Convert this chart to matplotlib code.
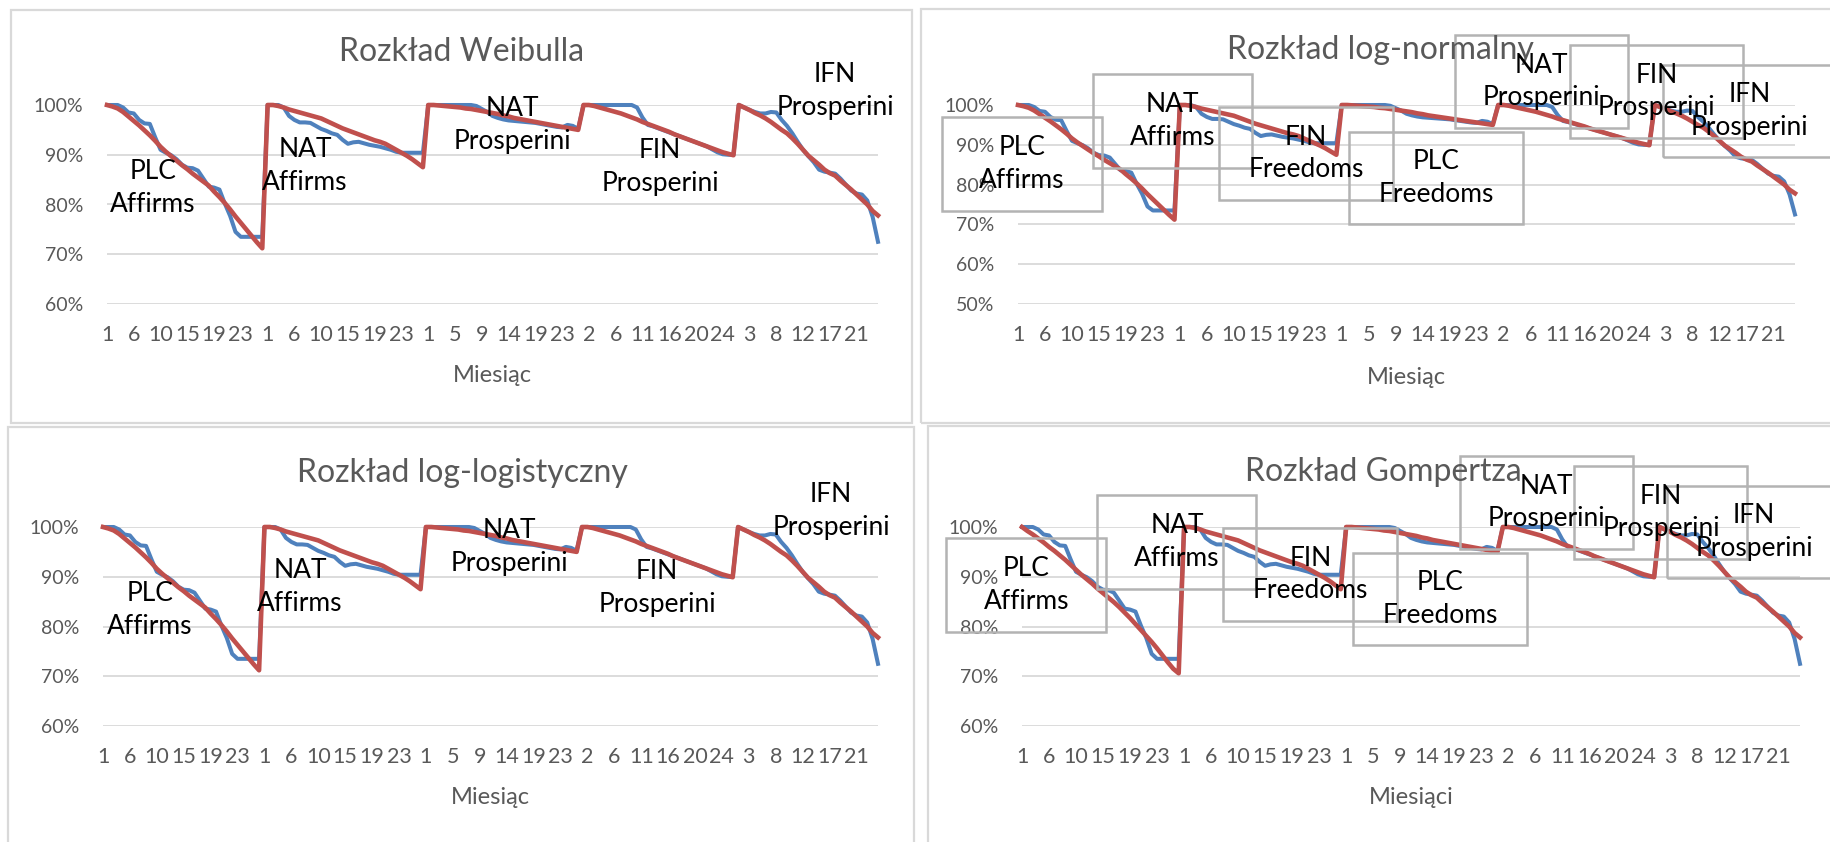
""" Survival curves: observed vs fitted, four distributions """

import matplotlib.pyplot as plt
from matplotlib.patches import Rectangle

W, H = 1831, 842

# Visible category labels (every 5th month on the category axis)
tick_labels = [
    "1", "6", "10", "15", "19", "23",
    "1", "6", "10", "15", "19", "23",
    "1", "5", "9", "14", "19", "23",
    "2", "6", "11", "16", "20", "24",
    "3", "8", "12", "17", "21",
]

# Observed survival (%) per programme
obs_plc_affirms = [100, 100, 100, 99.5, 98.5, 98.3, 97, 96.3, 96.2, 93.5, 91, 90.4, 89.9, 89.1, 88,
                   87.4, 87.3, 86.8, 85.2, 83.6, 83.4, 83, 80.2, 77.7, 74.5, 73.5, 73.5, 73.5, 73.5, 73.5]
obs_nat_affirms = [100, 100, 100, 99.5, 97.8, 97, 96.5, 96.5, 96.4, 95.8, 95.2, 94.8, 94.3, 94, 93,
                   92.2, 92.5, 92.6, 92.3, 92, 91.8, 91.6, 91.3, 91, 90.6, 90.4, 90.4, 90.4, 90.4, 90.4]
obs_nat_prosperini = [100, 100, 100, 100, 100, 100, 100, 100, 100, 99.8, 99.2, 98.6, 97.8, 97.4, 97.1,
                      96.9, 96.8, 96.7, 96.6, 96.5, 96.4, 96.2, 96, 95.8, 95.6, 95.5, 96, 95.8, 95.2]
obs_fin_prosperini = [100, 100, 100, 100, 100, 100, 100, 100, 100, 100, 99.5, 97.5, 96, 95.7, 95.3,
                      94.9, 94.5, 94.1, 93.7, 93.3, 92.9, 92.5, 92.1, 91.7, 91.1, 90.5, 90.1, 90, 90]
obs_ifn_prosperini = [100, 99.5, 99, 98.6, 98.3, 98.3, 98.6, 98.5, 97, 95.8, 94.3, 92.6, 91, 89.7,
                      88.5, 87, 86.6, 86.4, 86.2, 85.2, 84, 82.8, 82.2, 82, 80.8, 77.5, 72.5]

# Fitted survival (%) per programme
fit_plc_affirms = [100, 99.7, 99.3, 98.6, 97.7, 96.8, 95.9, 94.9, 93.9, 92.8, 91.6, 90.6, 89.7, 88.8, 87.9,
                   87.1, 86.2, 85.4, 84.6, 83.8, 82.6, 81.5, 80.3, 79, 77.6, 76.3, 75, 73.7, 72.4, 71.2]
fit_plc_affirms_gompertz = [100, 99.2, 98.5, 97.7, 96.9, 96, 95.2, 94.3, 93.4, 92.4, 91.4, 90.4, 89.5, 88.6,
                            87.6, 86.7, 85.8, 84.9, 83.9, 82.8, 81.7, 80.5, 79.3, 78.1, 76.9, 75.6, 74.2,
                            72.8, 71.5, 70.6]
fit_nat_affirms = [100, 100, 99.8, 99.5, 99.1, 98.8, 98.5, 98.2, 97.9, 97.6, 97.3, 96.8, 96.3, 95.8, 95.3,
                   94.9, 94.5, 94.1, 93.7, 93.3, 92.9, 92.6, 92.2, 91.6, 91, 90.4, 89.8, 89.1, 88.3, 87.5]
fit_nat_prosperini = [100, 100, 99.9, 99.8, 99.7, 99.6, 99.5, 99.3, 99.2, 99, 98.8, 98.6, 98.4, 98.2, 97.9,
                      97.7, 97.4, 97.2, 97, 96.8, 96.6, 96.4, 96.2, 96, 95.8, 95.6, 95.4, 95.2, 95]
fit_fin_prosperini = [100, 100, 99.8, 99.5, 99.2, 98.9, 98.6, 98.3, 97.9, 97.5, 97.1, 96.6, 96.2, 95.8, 95.4,
                      95, 94.6, 94.1, 93.7, 93.3, 92.9, 92.5, 92.1, 91.7, 91.3, 90.9, 90.5, 90.2, 89.9]
fit_ifn_prosperini = [100, 99.5, 99, 98.4, 97.9, 97.3, 96.6, 95.8, 95, 94.3, 93.3, 92.2, 91, 89.8,
                      88.9, 88, 87, 86.3, 85.8, 84.8, 83.9, 83, 82, 81, 80, 78.7, 77.8]

plain_labels = ["PLC\nAffirms", "NAT\nAffirms", "NAT\nProsperini", "FIN\nProsperini", "IFN\nProsperini"]
boxed_labels = ["PLC\nAffirms", "NAT\nAffirms", "FIN\nFreedoms", "PLC\nFreedoms",
                "NAT\nProsperini", "FIN\nProsperini", "IFN\nProsperini"]

# Layout (figure pixels)
plain_pos_top = [(153, 188), (305, 166), (512, 125), (660, 167), (835, 91)]
plain_pos_bottom = [(150, 610), (300, 587), (509, 547), (657, 588), (831, 511)]
boxes_top = [(942, 117, 1102, 211), (1093, 74, 1252, 168), (1219, 107, 1393, 200),
             (1349, 132, 1523, 224), (1455, 35, 1628, 128), (1570, 45, 1743, 138),
             (1663, 65, 1836, 157)]

BLUE = "#4F81BD"
RED = "#C0504D"
GREY = "#595959"
GRID = "#D9D9D9"

plt.rcParams["font.family"] = ["Lato", "DejaVu Sans"]


def fx(x):
    return x / W


def fy(y):
    return 1 - y / H


def px_rect(x0, y0, x1, y1):
    """ Pixel box -> figure fraction [left, bottom, width, height] """
    return [fx(x0), fy(y1), (x1 - x0) / W, (y1 - y0) / H]


def draw_panel(fig, rect, frame, title, title_xy, xlabel, xlabel_y, ymin, observed, fitted):
    """ Draws one chart: frame, title, observed and fitted lines """

    fig.add_artist(Rectangle((fx(frame[0]), fy(frame[3])), (frame[2] - frame[0]) / W,
                             (frame[3] - frame[1]) / H, transform=fig.transFigure,
                             fill=False, ec=GRID, lw=1.6, zorder=0))
    fig.text(fx(title_xy[0]), fy(title_xy[1]), title, ha="center", va="center",
             fontsize=23, color=GREY)

    ax = fig.add_axes(px_rect(*rect))
    n = len(observed)
    ax.plot(range(n), observed, color=BLUE, lw=2.9, solid_joinstyle="round", clip_on=False)
    ax.plot(range(n), fitted, color=RED, lw=3.3, solid_joinstyle="round", clip_on=False)

    ax.set_xlim(0, n - 1)
    ax.set_ylim(ymin, 100)
    yt = list(range(ymin, 101, 10))
    ax.set_yticks(yt)
    ax.set_yticklabels([f"{v}%" for v in yt])
    ax.set_xticks(range(0, n, 5))
    ax.set_xticklabels(tick_labels)
    ax.tick_params(length=0, labelcolor=GREY)
    ax.tick_params(axis="y", pad=17, labelsize=14)
    ax.tick_params(axis="x", pad=15, labelsize=15.5)
    ax.yaxis.grid(True, color=GRID, lw=1.3)
    ax.set_axisbelow(True)
    for s in ax.spines.values():
        s.set_visible(False)

    ax.set_xlabel(xlabel, fontsize=17, color=GREY)
    ax.xaxis.set_label_coords(0.5, -(xlabel_y - rect[3]) / (rect[3] - rect[1]))
    ax.xaxis.label.set_va("center")
    return ax


def add_labels(fig, labels, positions):
    for text, (x, y) in zip(labels, positions):
        fig.text(fx(x), fy(y), text, ha="center", va="center", ma="center",
                 fontsize=19, linespacing=1.38, color="black")


def add_boxed_labels(fig, labels, boxes, dx=0, dy=0):
    for text, (x0, y0, x1, y1) in zip(labels, boxes):
        x0, x1, y0, y1 = x0 + dx, x1 + dx, y0 + dy, y1 + dy
        fig.add_artist(Rectangle((fx(x0), fy(y1)), (x1 - x0) / W, (y1 - y0) / H,
                                 transform=fig.transFigure, fill=False, ec="#B3B3B3", lw=1.8))
        fig.text(fx((x0 + x1) / 2), fy((y0 + y1) / 2), text, ha="center", va="center",
                 ma="center", fontsize=19, linespacing=1.38, color="black")


if __name__ == "__main__":

    observed = (obs_plc_affirms + obs_nat_affirms + obs_nat_prosperini
                + obs_fin_prosperini + obs_ifn_prosperini)
    fitted_tail = fit_nat_affirms + fit_nat_prosperini + fit_fin_prosperini + fit_ifn_prosperini
    fitted = fit_plc_affirms + fitted_tail
    fitted_gompertz = fit_plc_affirms_gompertz + fitted_tail

    fig = plt.figure(figsize=(W / 100, H / 100), dpi=100)

    draw_panel(fig, (107, 105, 878, 304), (11.5, 10, 912, 423), "Rozkład Weibulla", (462, 52),
               "Miesiąc", 376, 60, observed, fitted)
    add_labels(fig, plain_labels, plain_pos_top)

    draw_panel(fig, (1018, 105, 1795, 304), (921, 9, 1845, 423), "Rozkład log-normalny", (1380, 50),
               "Miesiąc", 377, 50, observed, fitted)
    add_boxed_labels(fig, boxed_labels, boxes_top)

    draw_panel(fig, (103, 527, 878, 726), (8.5, 426.5, 914, 850), "Rozkład log-logistyczny", (462, 473),
               "Miesiąc", 798, 60, observed, fitted)
    add_labels(fig, plain_labels, plain_pos_bottom)

    draw_panel(fig, (1022, 527, 1800, 726), (928, 426, 1845, 850), "Rozkład Gompertza", (1383, 472),
               "Miesiąci", 798, 60, observed, fitted_gompertz)
    add_boxed_labels(fig, boxed_labels, boxes_top, dx=4.5, dy=421)

    plt.savefig("out.png", dpi=100)
